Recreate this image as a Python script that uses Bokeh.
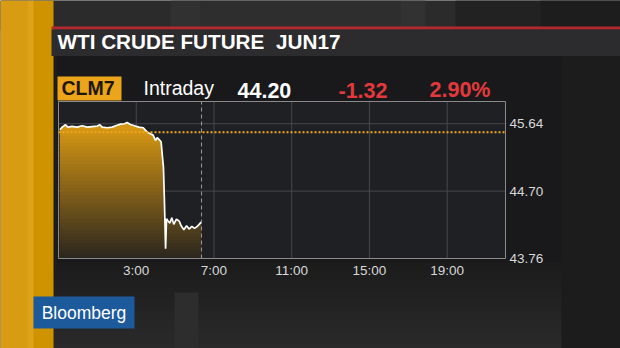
import numpy as np
from bokeh.plotting import figure
from bokeh.models import Range1d
from bokeh.core.properties import value
from bokeh.embed import file_html
from bokeh.resources import INLINE

# ---------------- data ----------------
hours = [-0.93, -0.81, -0.64, -0.52, -0.30, -0.04, 0.22, 0.48, 0.73, 0.99,
         1.13, 1.25, 1.51, 1.76, 1.98, 2.19, 2.40, 2.53, 2.70, 2.91,
         3.13, 3.36, 3.48, 3.59, 3.73, 3.87, 3.99, 4.08, 4.18, 4.28,
         4.35, 4.40, 4.45, 4.51, 4.56, 4.62, 4.73, 4.83, 4.93, 5.07,
         5.21, 5.31, 5.45, 5.59, 5.72, 5.86, 6.00, 6.14, 6.24, 6.34]
prices = [45.556, 45.593, 45.626, 45.593, 45.602, 45.593, 45.612, 45.593, 45.600, 45.607,
          45.626, 45.593, 45.584, 45.593, 45.616, 45.635, 45.640, 45.658, 45.630, 45.612,
          45.593, 45.584, 45.547, 45.519, 45.500, 45.481, 45.407, 45.445, 45.417, 45.389,
          45.174, 45.035, 44.570, 43.897, 44.315, 44.290, 44.254, 44.329, 44.236, 44.310,
          44.282, 44.217, 44.162, 44.217, 44.170, 44.208, 44.180, 44.208, 44.236, 44.268]
x_ticks = [3, 7, 11, 15, 19]
x_tick_labels = ["3:00", "7:00", "11:00", "15:00", "19:00"]
y_ticks = [43.76, 44.70, 45.64]
y_tick_labels = ["43.76", "44.70", "45.64"]
prev_close = 45.52
now_hour = 6.36
x_start, x_end = -1, 22
y_start, y_end = 43.76, 45.95

title_main = "WTI CRUDE FUTURE"
title_contract = "JUN17"
ticker_text = "CLM7"
mode_text = "Intraday"
last_text = "44.20"
change_text = "-1.32"
pct_text = "2.90%"
brand_text = "Bloomberg"

# ---------------- layout (canvas pixels) ----------------
W, H = 620, 348
FL, FR, FT, FB = 58, 505, 101, 258   # chart area on the canvas
FONT = value("Liberation Sans")

p = figure(width=W, height=H, output_backend="svg", toolbar_location=None,
           x_range=Range1d(0, W), y_range=Range1d(H, 0),
           x_axis_location=None, y_axis_location=None, title=None,
           min_border=0)
p.xgrid.visible = False
p.ygrid.visible = False
p.outline_line_color = None
p.background_fill_color = "#262627"
p.border_fill_color = "#262627"

# chart scales: data range mapped onto the chart area
span_t = (x_end - x_start) / (FR - FL)
k = (y_end - y_start) / (FB - FT)
p.extra_x_ranges = {"t": Range1d(x_start - FL * span_t, x_end + (W - FR) * span_t)}
p.extra_y_ranges = {"p": Range1d(y_start - (H - FB) * k, y_end + FT * k)}
C = dict(x_range_name="t", y_range_name="p")


def hexmix(a, b, f):
    a = np.array([int(a[i:i + 2], 16) for i in (1, 3, 5)])
    b = np.array([int(b[i:i + 2], 16) for i in (1, 3, 5)])
    c = a + (b - a) * f
    return "#%02x%02x%02x" % tuple(int(round(v)) for v in c)


# ---------------- background decorations (layered) ----------------
deco = [
    # top strip
    (0, W, 0, 30, "#2b2b2c"),
    (170, 200, 0, 30, "#313132"),
    (200, 400, 0, 30, "#2e2e2f"),
    (400, 425, 0, 30, "#323233"),
    (455, W, 0, 30, "#222223"),
    (540, W, 0, 30, "#1d1d1e"),
    # lower area base
    (50, W, 55, H, "#1c1c1d"),
]
# smooth vertical fade below the panel
n_fade = 24
for i in range(n_fade):
    y0 = 262 + i * (H - 262) / n_fade
    deco.append((50, 561, y0, H, hexmix("#1b1b1c", "#2a2a2b", (i + 1) / n_fade)))
deco += [
    (174, 198, 292, H, "#2d2d2e"),
    (561, W, 55, H, "#1c1c1d"),
    (57, 561, 56, 262, "#19191b"),
    # left orange bar
    (0, 53, 0, H, "#cf9300"),
    (0, 27, 0, H, "#d89c14"),
    (27, 33, 0, H, "#dea318"),
    # title bar with red rule
    (51, W, 26, 29, "#b3292d"),
    (51, W, 29, 55.5, "#2c2c2f"),
    # boxes
    (33, 134, 296, 328, "#1d5a9c"),
    (57, 121, 76, 100, "#eca51a"),
]
for l, r, t, b, col in deco:
    p.quad(left=l, right=r, top=t, bottom=b, fill_color=col, line_color=None)

# chart background
p.quad(left=x_start, right=x_end, bottom=y_start, top=y_end,
       fill_color="#1f2023", line_color=None, **C)

# grid lines
p.segment(x0=x_ticks, x1=x_ticks, y0=[y_start] * len(x_ticks), y1=[y_end] * len(x_ticks),
          line_color="#46474b", line_width=1, **C)
p.segment(x0=[x_start] * len(y_ticks), x1=[x_end] * len(y_ticks), y0=y_ticks, y1=y_ticks,
          line_color="#46474b", line_width=1, **C)

# gradient area fill (stacked bands)
px = np.array(hours)
py = np.array(prices)
edges = np.linspace(y_start, 45.64, 40)
edges = np.append(edges, y_end + 1)
p.varea(x=px, y1=y_start, y2=py, fill_color="#7a5a1c", **C)
for i in range(len(edges) - 1):
    lo, hi = edges[i], edges[i + 1]
    mid = min((lo + hi) / 2, 45.64)
    f = (mid - y_start) / (45.64 - y_start)
    col = hexmix("#28241e", "#d89814", f)
    lo_ov = lo - 0.03 if i > 0 else lo
    p.varea(x=px, y1=np.minimum(py, lo_ov), y2=np.minimum(py, hi), fill_color=col, **C)

p.line(px, py, line_color="white", line_width=1.7, **C)

# previous close (dotted) and current time (dashed)
p.segment(x0=[x_start], x1=[x_end], y0=[prev_close], y1=[prev_close],
          line_color="#f2a81d", line_dash="2 2", line_width=2, **C)
p.segment(x0=[now_hour], x1=[now_hour], y0=[y_start], y1=[y_end],
          line_color="#9a9a9a", line_dash="4 3", line_width=1, **C)

# chart outline
p.quad(left=x_start, right=x_end, bottom=y_start, top=y_end,
       fill_color=None, line_color="#8a8a8a", line_width=1, **C)

# tick labels
p.text(x=x_ticks, y=[y_start] * len(x_ticks), text=x_tick_labels, y_offset=4,
       text_font=FONT, text_font_size=value("13.5px"), text_color="#d8d8d8",
       text_align=value("center"), text_baseline=value("top"), **C)
p.text(x=[x_end] * len(y_ticks), y=y_ticks, text=y_tick_labels, x_offset=4,
       text_font=FONT, text_font_size=value("13.5px"), text_color="#d8d8d8",
       text_align=value("left"), text_baseline=value("middle"), **C)


def txt(cx, cy, s, size, color, bold=False, align="left"):
    p.text(x=[cx], y=[cy], text=[s], text_font=FONT, text_font_size=value(f"{size}px"),
           text_color=color, text_font_style=value("bold" if bold else "normal"),
           text_align=value(align), text_baseline=value("middle"))


txt(57, 40.5, title_main, 20.7, "#ffffff", bold=True)
txt(275.5, 40.5, title_contract, 20.7, "#ffffff", bold=True)
txt(61, 87.5, ticker_text, 19.5, "#1e1606", bold=True)
txt(143, 87.5, mode_text, 19.5, "#ffffff")
txt(237, 89.5, last_text, 21.5, "#ffffff", bold=True)
txt(338, 89.5, change_text, 21.5, "#e4393b", bold=True)
txt(429, 89.5, pct_text, 21.5, "#e4393b", bold=True)
txt(83.5, 312, brand_text, 17.5, "#ffffff", align="center")

open("out.html", "w").write(file_html(p, INLINE))
